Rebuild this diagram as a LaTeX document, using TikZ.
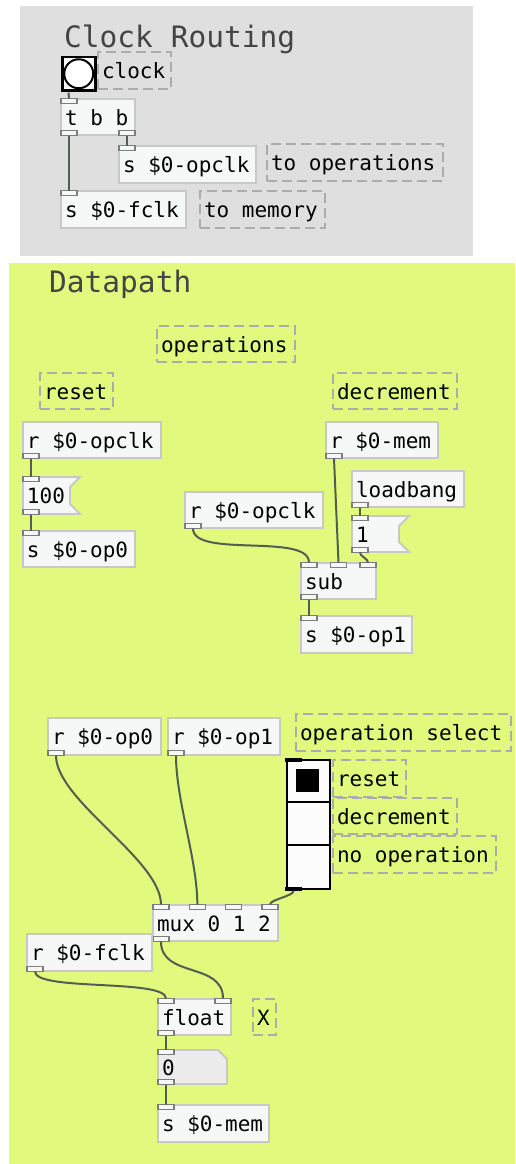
\documentclass[tikz,border=0pt]{standalone}
\usepackage{fontspec}
\newfontfamily\pdmono{DejaVu Sans Mono}
\usetikzlibrary{calc}
\definecolor{canvasgray}{RGB}{223,223,223}
\definecolor{canvasgreen}{RGB}{225,250,125}
\definecolor{boxfill}{RGB}{246,247,247}
\definecolor{boxline}{RGB}{200,200,200}
\definecolor{portline}{RGB}{125,125,125}
\definecolor{cordcol}{RGB}{85,92,82}
\definecolor{commentline}{RGB}{172,172,172}
\definecolor{titlecol}{RGB}{68,68,68}
\definecolor{numfill}{RGB}{236,236,236}
\definecolor{guifill}{RGB}{252,252,252}

\tikzset{
  pdbase/.style={rectangle, anchor=north west, inner xsep=4pt, inner ysep=0pt,
    outer sep=0pt, text height=18pt, text depth=2pt,
    font=\pdmono\fontsize{21}{24}\selectfont},
  obj/.style={pdbase, draw=boxline, fill=boxfill, line width=1.8pt},
  cmt/.style={pdbase, draw=commentline, line width=2pt, dash pattern=on 10pt off 5pt},
  bare/.style={pdbase},
  msgshape/.style={draw=boxline, fill=boxfill, line width=1.8pt},
  numshape/.style={draw=boxline, fill=numfill, line width=1.8pt},
  port/.style={draw=portline, fill=boxfill, line width=1.5pt},
  cord/.style={draw=cordcol, line width=2pt},
  title/.style={anchor=base west, inner sep=0pt, text=titlecol,
    font=\pdmono\fontsize{29.5}{32}\selectfont}
}

% box: style, name, x1, y1, x2, y2, text
\newcommand\pdbox[7]{%
  \pgfmathsetmacro\pdw{#5-#3}\pgfmathsetmacro\pdh{#6-#4}\pgfmathsetmacro\pdtw{#5-#3-8}%
  \node[#1, minimum width=\pdw pt, minimum height=\pdh pt] (#2) at (#3,#4) {\makebox[\pdtw pt][l]{#7}};}
% message box: name, x1, y1, x2 (flag tip), y2, text
\newcommand\pdmsg[6]{%
  \draw[msgshape] (#2,#3) -- (#4,#3) -- (#4-10,#3+10) -- (#4-10,#5-10) -- (#4,#5) -- (#2,#5) -- cycle;
  \pdbox{bare}{#1}{#2}{#3}{#4}{#5}{#6}}
% number box: name, x1, y1, x2, y2, text
\newcommand\pdnum[6]{%
  \draw[numshape] (#2,#3) -- (#4-9,#3) -- (#4,#3+9) -- (#4,#5) -- (#2,#5) -- cycle;
  \pdbox{bare}{#1}{#2}{#3}{#4}{#5}{#6}}
% inlet / outlet: node, index, x offset
\newcommand\pdin[3]{%
  \draw[port] ($(#1.north west)+(#3,-0.5)$) rectangle ++(16,5);
  \coordinate (#1-i#2) at ($(#1.north west)+(#3+8,-0.5)$);}
\newcommand\pdout[3]{%
  \draw[port] ($(#1.south west)+(#3,-4.5)$) rectangle ++(16,5);
  \coordinate (#1-o#2) at ($(#1.south west)+(#3+8,0.5)$);}

\begin{document}
\begin{tikzpicture}[x=1pt,y=-1pt]
\useasboundingbox (0,0) rectangle (515,1164);
\fill[white] (0,0) rectangle (515,1164);

% ---------- clock routing ----------
\fill[canvasgray] (20,6) rectangle (473,256);
\node[title] (t1) at (64,48) {Clock Routing};

\node[draw=black, fill=guifill, line width=2.5pt, minimum size=33pt, anchor=north west, inner sep=0pt] (bang) at (61,56) {};
\draw[black, line width=2pt, fill=white] (bang.center) circle[radius=14.5pt];
\coordinate (bang-o0) at ($(bang.south west)+(7.5,1)$);
\pdbox{cmt}{cclock}{98}{52}{171}{89}{clock}

\pdbox{obj}{tbb}{61}{99}{135}{135}{t b b}
\pdin{tbb}{0}{0}\pdout{tbb}{0}{0}\pdout{tbb}{1}{58}
\pdbox{obj}{sopclk}{119}{146}{256}{183}{s \$0-opclk}
\pdin{sopclk}{0}{0}
\pdbox{cmt}{ctoops}{267}{144}{443}{181}{to operations}
\pdbox{obj}{sfclk}{61}{191}{186}{228}{s \$0-fclk}
\pdin{sfclk}{0}{0}
\pdbox{cmt}{ctomem}{200}{191}{325}{228}{to memory}

\draw[cord] (bang-o0) -- (tbb-i0);
\draw[cord] (tbb-o0) -- (sfclk-i0);
\draw[cord] (tbb-o1) -- (sopclk-i0);

% ---------- datapath ----------
\fill[canvasgreen] (9,263) rectangle (515,1164);
\node[title] (t2) at (49,292) {Datapath};

\pdbox{cmt}{cops}{157}{326}{295}{362}{operations}
\pdbox{cmt}{creset}{40}{373}{113}{409}{reset}
\pdbox{cmt}{cdec}{333}{373}{457}{409}{decrement}

\pdbox{obj}{ropclkA}{23}{422}{161}{458}{r \$0-opclk}
\pdout{ropclkA}{0}{0}
\pdmsg{mhundred}{23}{477}{80}{514}{100}
\pdin{mhundred}{0}{0}\pdout{mhundred}{0}{0}
\pdbox{obj}{sop0}{23}{531}{135}{567}{s \$0-op0}
\pdin{sop0}{0}{0}

\pdbox{obj}{ropclkB}{185}{492}{323}{528}{r \$0-opclk}
\pdout{ropclkB}{0}{0}
\pdbox{obj}{rmem}{326}{422}{438}{458}{r \$0-mem}
\pdout{rmem}{0}{0}
\pdbox{obj}{lb}{352}{471}{464}{507}{loadbang}
\pdout{lb}{0}{0}
\pdmsg{mone}{352}{516}{409}{552}{1}
\pdin{mone}{0}{0}\pdout{mone}{0}{0}
\pdbox{obj}{sub}{301}{563}{376}{599}{sub}
\pdin{sub}{0}{0}\pdin{sub}{1}{29.5}\pdin{sub}{2}{59}\pdout{sub}{0}{0}
\pdbox{obj}{sop1}{301}{616}{412}{653}{s \$0-op1}
\pdin{sop1}{0}{0}

\draw[cord] (ropclkA-o0) -- (mhundred-i0);
\draw[cord] (mhundred-o0) -- (sop0-i0);
\draw[cord] (ropclkB-o0) .. controls +(0,30) and +(0,-30) .. (sub-i0);
\draw[cord] (rmem-o0) -- (sub-i1);
\draw[cord] (lb-o0) -- (mone-i0);
\draw[cord] (mone-o0) .. controls +(0,4) and +(0,-4) .. (sub-i2);
\draw[cord] (sub-o0) -- (sop1-i0);

% operation select
\pdbox{obj}{rop0}{48}{718}{161}{755}{r \$0-op0}
\pdout{rop0}{0}{0}
\pdbox{obj}{rop1}{168}{718}{280}{755}{r \$0-op1}
\pdout{rop1}{0}{0}
\pdbox{cmt}{copsel}{296}{714}{511}{751}{operation select}

\node[draw=black, fill=guifill, line width=2pt, minimum width=43pt, minimum height=129pt, anchor=north west, inner sep=0pt] (vr) at (286,759) {};
\draw[black, line width=2pt] ($(vr.north west)+(0,43)$) -- ($(vr.north east)+(0,43)$);
\draw[black, line width=2pt] ($(vr.north west)+(0,86)$) -- ($(vr.north east)+(0,86)$);
\fill[black] ($(vr.north west)+(10,10)$) rectangle ++(23,23);
\fill[black] ($(vr.north west)+(-1,-1)$) rectangle ++(17,4);
\fill[black] ($(vr.south west)+(-1,-3)$) rectangle ++(17,4);
\coordinate (vr-o0) at ($(vr.south west)+(7.5,1)$);
\pdbox{cmt}{cselr}{333}{760}{406}{797}{reset}
\pdbox{cmt}{cseld}{333}{798}{457}{834}{decrement}
\pdbox{cmt}{cseln}{333}{836}{496}{873}{no operation}

\pdbox{obj}{mux}{153}{905}{278}{941}{mux 0 1 2}
\pdin{mux}{0}{0}\pdin{mux}{1}{36.33}\pdin{mux}{2}{72.67}\pdin{mux}{3}{109}
\pdout{mux}{0}{0}
\pdbox{obj}{rfclk}{27}{934}{152}{971}{r \$0-fclk}
\pdout{rfclk}{0}{0}
\pdbox{obj}{flt}{158}{999}{231}{1035}{float}
\pdin{flt}{0}{0}\pdin{flt}{1}{57}\pdout{flt}{0}{0}
\pdbox{cmt}{cx}{253}{999}{276}{1035}{X}
\pdnum{num}{158}{1050}{227}{1084}{0}
\pdin{num}{0}{0}\pdout{num}{0}{0}
\pdbox{obj}{smem}{158}{1105}{269}{1142}{s \$0-mem}
\pdin{smem}{0}{0}

\draw[cord] (rop0-o0) .. controls +(0,45) and +(0,-45) .. (mux-i0);
\draw[cord] (rop1-o0) .. controls +(0,45) and +(0,-45) .. (mux-i1);
\draw[cord] (vr-o0) .. controls +(0,5) and +(0,-5) .. (mux-i3);
\draw[cord] (mux-o0) .. controls +(0,37) and +(0,-37) .. (flt-i1);
\draw[cord] (rfclk-o0) .. controls +(0,20) and +(0,-20) .. (flt-i0);
\draw[cord] (flt-o0) -- (num-i0);
\draw[cord] (num-o0) -- (smem-i0);
\end{tikzpicture}
\end{document}
